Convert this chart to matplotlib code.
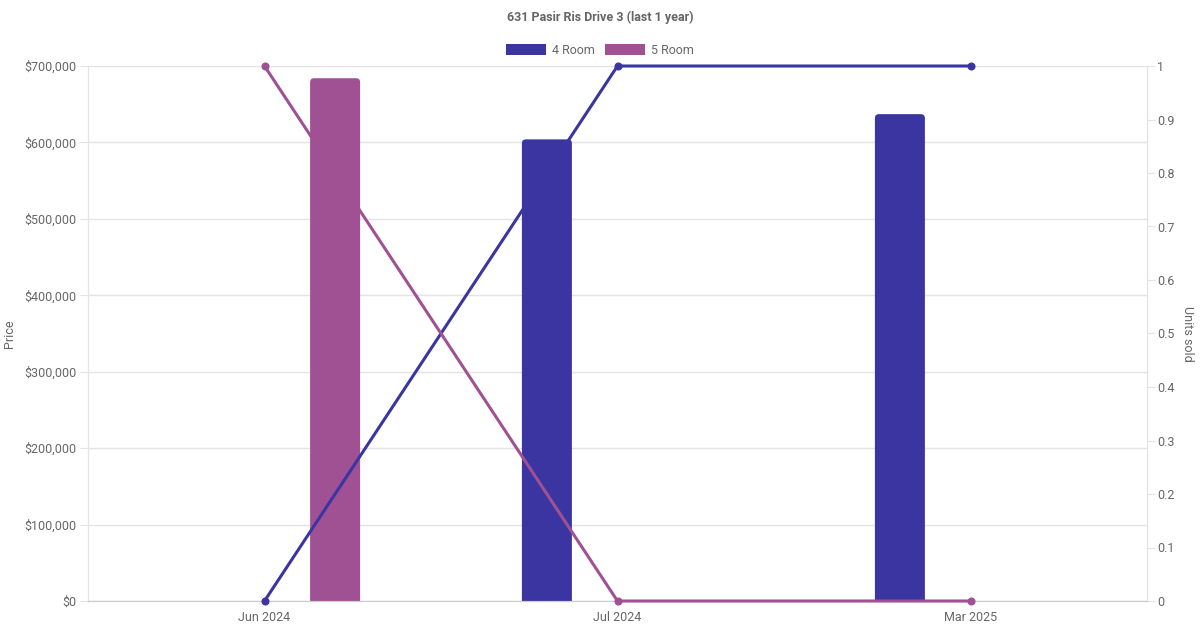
import matplotlib
matplotlib.use("Agg")
import matplotlib.pyplot as plt
from matplotlib.path import Path
from matplotlib.patches import PathPatch, Patch
from matplotlib.ticker import FuncFormatter, MultipleLocator
import numpy as np

plt.rcParams['font.family'] = ['Roboto', 'DejaVu Sans']

title = "631 Pasir Ris Drive 3 (last 1 year)"
months = ["Jun 2024", "Jul 2024", "Mar 2025"]
series = ["4 Room", "5 Room"]
colors = {"4 Room": "#3a35a0", "5 Room": "#a05194"}
price_4room = [np.nan, 604000, 637000]
price_5room = [684000, np.nan, np.nan]
units_4room = [0, 1, 1]
units_5room = [1, 0, 0]

fig = plt.figure(figsize=(12, 6.3), dpi=100)
ax = fig.add_axes([88/1200, 1-601/630, (1147-88)/1200, (601-66)/630])
ax2 = ax.twinx()

x = np.arange(len(months))
off = 0.2
bw = 50/353
bars = []
bars += list(ax.bar(x - off, price_4room, width=bw, color=colors["4 Room"], zorder=2))
bars += list(ax.bar(x + off, price_5room, width=bw, color=colors["5 Room"], zorder=2))

ax.set_xlim(-0.5, 2.5)
ax.set_ylim(0, 700000)
ax2.set_ylim(0, 1)

# rounded top corners
rx = 4/353
ry = 4*700000/535
for b in bars:
    h = b.get_height()
    if not np.isfinite(h) or h == 0:
        continue
    x0, w = b.get_x(), b.get_width()
    x1 = x0 + w
    verts = [(x0, 0), (x0, h-ry), (x0, h), (x0+rx, h), (x1-rx, h), (x1, h), (x1, h-ry), (x1, 0), (x0, 0)]
    codes = [Path.MOVETO, Path.LINETO, Path.CURVE3, Path.CURVE3, Path.LINETO, Path.CURVE3, Path.CURVE3, Path.LINETO, Path.CLOSEPOLY]
    pp = PathPatch(Path(verts, codes), facecolor=b.get_facecolor(), edgecolor='none', zorder=2)
    b.set_visible(False)
    ax.add_patch(pp)

ax2.plot(x, units_4room, color=colors["4 Room"], lw=2.2, marker='o', ms=4.8, zorder=5, clip_on=False)
ax2.plot(x, units_5room, color=colors["5 Room"], lw=2.2, marker='o', ms=4.8, zorder=5, clip_on=False)

grid_c = "#e4e4e4"
txt_c = "#666666"
fs = 9
ax.yaxis.set_major_locator(MultipleLocator(100000))
ax.yaxis.set_major_formatter(FuncFormatter(lambda v, p: "$0" if v == 0 else f"${int(v):,}"))
ax.grid(axis='y', color=grid_c, lw=1)
ax.set_axisbelow(True)
ax.tick_params(axis='y', length=5.8, width=0.8, color=grid_c, labelcolor=txt_c, labelsize=fs, pad=2.2)
ax.set_xticks(x)
ax.set_xticklabels(months)
ax.tick_params(axis='x', length=0, labelcolor=txt_c, labelsize=fs, pad=7)

ax2.yaxis.set_major_locator(MultipleLocator(0.1))
ax2.yaxis.set_major_formatter(FuncFormatter(lambda v, p: f"{v:.1f}".rstrip('0').rstrip('.') if v != 0 else "0"))
ax2.tick_params(axis='y', length=5.8, width=0.8, color=grid_c, labelcolor=txt_c, labelsize=fs, pad=1.5)

for a in (ax, ax2):
    for s in a.spines.values():
        s.set_color(grid_c)
    a.spines['top'].set_visible(False)
ax.spines['bottom'].set_color("#cccccc")
ax2.spines['bottom'].set_color("#cccccc")

ax.set_ylabel("Price", color=txt_c, fontsize=fs)
ax.yaxis.set_label_coords((16-88)/1059, 0.5)
ax2.set_ylabel("Units sold", color=txt_c, fontsize=fs, rotation=270, va='center')
ax2.yaxis.set_label_coords((1187-88)/1059, 0.5)

fig.text(0.5, 1-17/630, title, ha='center', va='center', fontsize=fs, fontweight='bold', color=txt_c)

handles = [Patch(facecolor=colors[s], edgecolor='none') for s in series]
leg = fig.legend(handles, series, loc='center', bbox_to_anchor=(0.5, 1-50/630), ncol=2, frameon=False,
                 handlelength=3.2, handleheight=0.96, handletextpad=0.5, columnspacing=0.8, fontsize=fs)
for t in leg.get_texts():
    t.set_color(txt_c)

fig.savefig("out.png", dpi=100)
